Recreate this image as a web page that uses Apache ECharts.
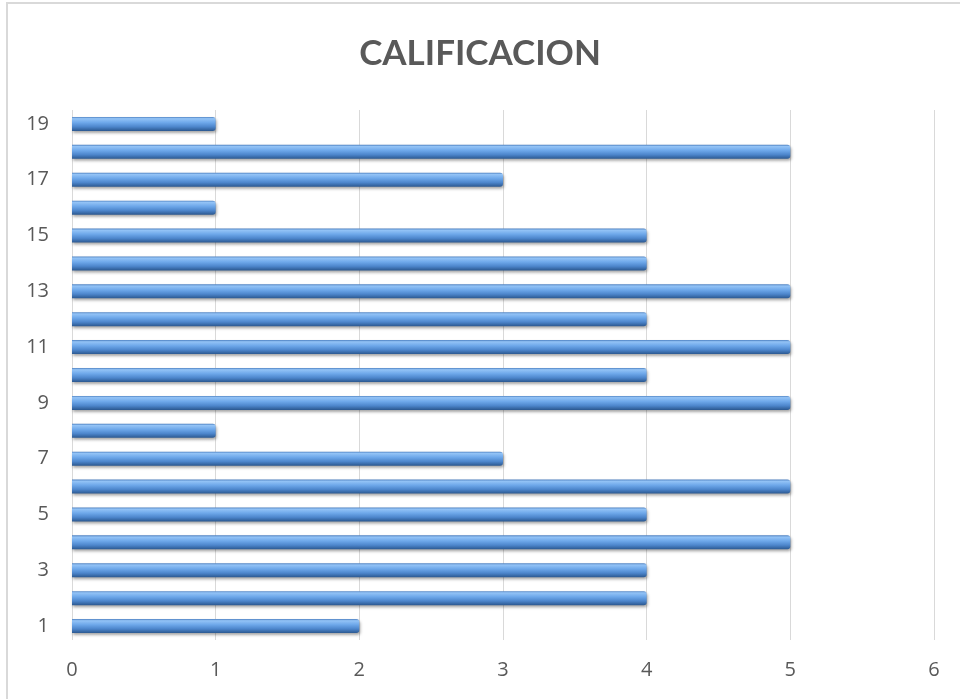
<!DOCTYPE html>
<html>
<head>
<meta charset="utf-8">
<script src="https://cdn.jsdelivr.net/npm/echarts@6/dist/echarts.min.js"></script>
<style>
  html, body { margin: 0; padding: 0; background: #fff; }
  #chart { width: 960px; height: 699px; }
</style>
</head>
<body>
<div id="chart"></div>
<script>
// Categories 1..19, bottom to top
const categories = ['1','2','3','4','5','6','7','8','9','10','11','12','13','14','15','16','17','18','19'];
const scores = [2, 4, 4, 5, 4, 5, 3, 1, 5, 4, 5, 4, 5, 4, 4, 1, 3, 5, 1];
const xTicks = { min: 0, max: 6, interval: 1 };

const chart = echarts.init(document.getElementById('chart'));

const barFill = new echarts.graphic.LinearGradient(0, 0, 0, 1, [
  { offset: 0, color: '#4f82c2' },
  { offset: 0.12, color: '#93c3f6' },
  { offset: 0.4, color: '#6ea8ea' },
  { offset: 0.7, color: '#4d86cc' },
  { offset: 1, color: '#2b5890' }
]);

chart.setOption({
  animation: false,
  backgroundColor: '#ffffff',
  title: {
    text: 'CALIFICACION',
    left: 'center',
    top: 31,
    textStyle: {
      fontFamily: 'Lato',
      fontWeight: 'bold',
      fontSize: 35,
      color: '#595959'
    }
  },
  graphic: [{
    type: 'rect',
    shape: { x: 7, y: 3, width: 1000, height: 800 },
    style: { fill: 'none', stroke: '#d9d9d9', lineWidth: 2 },
    silent: true,
    z: -1
  }],
  grid: { left: 72, right: 26, top: 110, bottom: 59 },
  xAxis: {
    type: 'value',
    min: xTicks.min,
    max: xTicks.max,
    interval: xTicks.interval,
    axisLine: { show: false },
    axisTick: { show: false },
    axisLabel: {
      margin: 20,
      fontFamily: 'Open Sans',
      fontSize: 20,
      color: '#595959'
    },
    splitLine: { lineStyle: { color: '#d9d9d9', width: 1 } }
  },
  yAxis: {
    type: 'category',
    data: categories,
    axisLine: { show: false },
    axisTick: { show: false },
    axisLabel: {
      interval: 1,
      margin: 23,
      fontFamily: 'Open Sans',
      fontSize: 20,
      color: '#595959'
    }
  },
  series: [{
    type: 'bar',
    data: scores,
    barWidth: 14,
    itemStyle: {
      color: barFill,
      borderRadius: [0, 3, 3, 0],
      shadowColor: 'rgba(0,0,0,0.35)',
      shadowBlur: 3,
      shadowOffsetY: 2,
      shadowOffsetX: 1
    }
  }]
});
</script>
</body>
</html>
